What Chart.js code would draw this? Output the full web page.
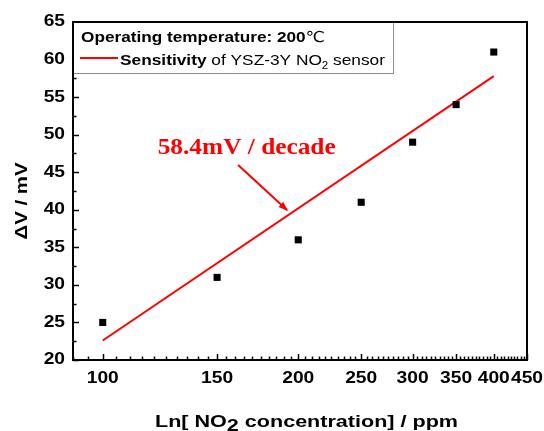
<!DOCTYPE html>
<html>
<head>
<meta charset="utf-8">
<script src="https://cdn.jsdelivr.net/npm/chart.js@4/dist/chart.umd.min.js"></script>
<style>
  html, body { margin: 0; padding: 0; background: #fff; }
</style>
</head>
<body>
<canvas id="chart" width="544" height="431"></canvas>
<script>
// measured points
const concentrations = [100, 150, 200, 250, 300, 350, 400];
const deltaV = [25, 31, 36, 41, 49, 54, 61];
// linear fit (58.4 mV / decade)
const fitX = [100, 400];
const fitY = [22.6, 57.8];
// axis ticks
const xTicks = [100, 150, 200, 250, 300, 350, 400, 450];
const yTicks = [20, 25, 30, 35, 40, 45, 50, 55, 60, 65];

const SANS = '"Liberation Sans", Arial, sans-serif';
const SERIF = '"Liberation Serif", "Times New Roman", serif';

// draws text pieces squeezed/stretched to a given total width
// align: 'left' (x = start) or 'center' (x = middle)
function drawRuns(ctx, x, y, runs, targetW, align) {
  let w = 0;
  runs.forEach((r) => { ctx.font = r.font; w += ctx.measureText(r.text).width; });
  const sx = targetW ? targetW / w : 1;
  ctx.save();
  ctx.translate(align === 'center' ? x - (w * sx) / 2 : x, y);
  ctx.scale(sx, 1);
  ctx.textAlign = 'left';
  let cx = 0;
  runs.forEach((r) => {
    ctx.font = r.font;
    ctx.fillText(r.text, cx, r.dy || 0);
    cx += ctx.measureText(r.text).width;
  });
  ctx.restore();
}

function drawStretched(ctx, text, x, y, sx, align) {
  ctx.save();
  ctx.translate(x, y);
  ctx.scale(sx, 1);
  ctx.textAlign = align;
  ctx.fillText(text, 0, 0);
  ctx.restore();
}

const decor = {
  id: 'decor',
  afterDatasetsDraw(chart) {
    const ctx = chart.ctx;
    const area = chart.chartArea;
    const xs = chart.scales.x;
    const ys = chart.scales.y;
    ctx.save();

    // minor + major ticks, pointing inward
    ctx.strokeStyle = '#000';
    ctx.lineWidth = 1.5;
    ctx.beginPath();
    for (let v = 90; v <= 450; v += 5) {
      const px = Math.round(xs.getPixelForValue(v)) + 0.5;
      const len = xTicks.includes(v) ? 6 : 3.5;
      ctx.moveTo(px, area.bottom);
      ctx.lineTo(px, area.bottom - len);
    }
    for (let v = 20; v <= 65; v += 2.5) {
      const py = Math.round(ys.getPixelForValue(v)) + 0.5;
      const len = yTicks.includes(v) ? 6 : 3.5;
      ctx.moveTo(area.left, py);
      ctx.lineTo(area.left + len, py);
    }
    ctx.stroke();

    // frame
    ctx.lineWidth = 2;
    ctx.strokeRect(area.left, area.top, area.right - area.left, area.bottom - area.top);

    // tick labels
    ctx.fillStyle = '#000';
    ctx.font = 'bold 16px ' + SANS;
    ctx.textBaseline = 'alphabetic';
    xTicks.forEach((v) => {
      drawStretched(ctx, String(v), xs.getPixelForValue(v), area.bottom + 23, 1.2, 'center');
    });
    ctx.textBaseline = 'middle';
    yTicks.forEach((v) => {
      drawStretched(ctx, String(v), area.left - 8, ys.getPixelForValue(v), 1.2, 'right');
    });
    ctx.textBaseline = 'alphabetic';

    // annotation
    ctx.fillStyle = '#ff0000';
    ctx.strokeStyle = '#ff0000';
    drawRuns(ctx, xs.getPixelForValue(166.6), ys.getPixelForValue(47.4),
      [{ text: '58.4mV / decade', font: 'bold 23px ' + SERIF }], 178, 'center');
    const ax0 = xs.getPixelForValue(161.6), ay0 = ys.getPixelForValue(45.96);
    const ax1 = xs.getPixelForValue(192.2), ay1 = ys.getPixelForValue(39.97);
    ctx.lineWidth = 2;
    ctx.beginPath();
    ctx.moveTo(ax0, ay0);
    ctx.lineTo(ax1, ay1);
    ctx.stroke();
    const ang = Math.atan2(ay1 - ay0, ax1 - ax0);
    ctx.beginPath();
    ctx.moveTo(ax1 + 1, ay1 + 1);
    ctx.lineTo(ax1 - 9 * Math.cos(ang - 0.4), ay1 - 9 * Math.sin(ang - 0.4));
    ctx.lineTo(ax1 - 9 * Math.cos(ang + 0.4), ay1 - 9 * Math.sin(ang + 0.4));
    ctx.closePath();
    ctx.fill();

    // legend box
    const bx = area.left, by = area.top, bw = 320, bh = 51;
    ctx.fillStyle = '#fff';
    ctx.fillRect(bx + 1, by + 1, bw, bh);
    ctx.strokeStyle = '#8c8c8c';
    ctx.lineWidth = 1;
    ctx.strokeRect(bx + 0.5, by + 0.5, bw, bh);
    ctx.strokeStyle = '#000';
    ctx.lineWidth = 2;
    ctx.beginPath();
    ctx.moveTo(area.left, area.top);
    ctx.lineTo(area.left + bw + 2, area.top);
    ctx.moveTo(area.left, area.top);
    ctx.lineTo(area.left, area.top + bh + 2);
    ctx.stroke();

    ctx.fillStyle = '#000';
    drawRuns(ctx, bx + 8, by + 20, [
      { text: 'Operating temperature: 200', font: 'bold 15px ' + SANS },
      { text: '\u2103', font: '15px "DejaVu Sans", ' + SANS }
    ], 244, 'left');
    ctx.strokeStyle = '#ff0000';
    ctx.lineWidth = 2;
    ctx.beginPath();
    ctx.moveTo(bx + 7, by + 36);
    ctx.lineTo(bx + 45, by + 36);
    ctx.stroke();
    drawRuns(ctx, bx + 47, by + 43, [
      { text: 'Sensitivity', font: 'bold 15px ' + SANS },
      { text: ' of YSZ-3Y NO', font: '15px ' + SANS },
      { text: '2', font: '10px ' + SANS, dy: 4 },
      { text: ' sensor', font: '15px ' + SANS }
    ], 265, 'left');

    // axis titles
    ctx.fillStyle = '#000';
    drawRuns(ctx, 155, 427, [
      { text: 'Ln[ NO', font: 'bold 16px ' + SANS },
      { text: '2', font: 'bold 16px ' + SANS, dy: 4 },
      { text: ' concentration] / ppm', font: 'bold 16px ' + SANS }
    ], 303, 'left');

    ctx.translate(27, 201);
    ctx.rotate(-Math.PI / 2);
    drawRuns(ctx, 0, 0, [{ text: '\u0394V / mV', font: 'bold 17px ' + SANS }], 77, 'center');
    ctx.restore();
  }
};

new Chart(document.getElementById('chart'), {
  type: 'scatter',
  data: {
    datasets: [
      {
        label: 'Sensitivity of YSZ-3Y NO2 sensor',
        data: fitX.map((x, i) => ({ x, y: fitY[i] })),
        showLine: true,
        borderColor: '#ff0000',
        borderWidth: 2,
        pointRadius: 0,
        order: 1
      },
      {
        label: 'data',
        data: concentrations.map((x, i) => ({ x, y: deltaV[i] })),
        pointStyle: 'rect',
        pointRadius: 5,
        borderWidth: 0,
        backgroundColor: '#000',
        order: 0
      }
    ]
  },
  options: {
    responsive: false,
    animation: false,
    devicePixelRatio: 1,
    layout: { padding: { top: 22, right: 17, left: 0, bottom: 0 } },
    plugins: {
      legend: { display: false },
      tooltip: { enabled: false }
    },
    scales: {
      x: {
        type: 'logarithmic',
        min: 90,
        max: 450,
        grid: { display: false, drawTicks: false },
        border: { display: false },
        afterBuildTicks: (s) => { s.ticks = xTicks.map((v) => ({ value: v })); },
        afterFit: (s) => { s.height = 71; },
        ticks: { display: false }
      },
      y: {
        min: 20,
        max: 65,
        grid: { display: false, drawTicks: false },
        border: { display: false },
        afterBuildTicks: (s) => { s.ticks = yTicks.map((v) => ({ value: v })); },
        afterFit: (s) => { s.width = 73; },
        ticks: { display: false }
      }
    }
  },
  plugins: [decor]
});
</script>
</body>
</html>
